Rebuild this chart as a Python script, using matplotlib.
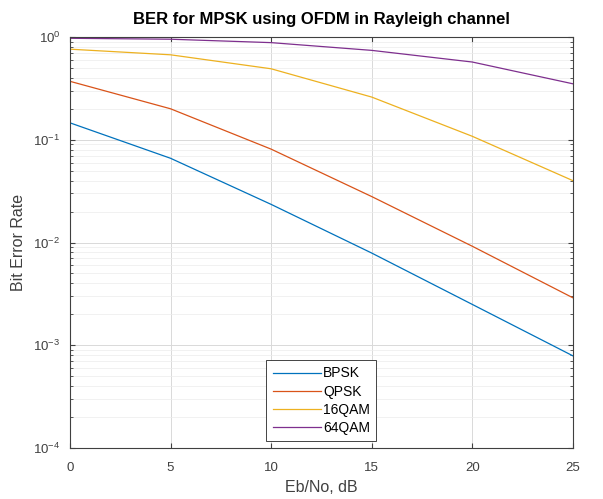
#!/usr/bin/env python3
# -*- coding: utf-8 -*-

import matplotlib
matplotlib.use('Agg')
import matplotlib.pyplot as plt

# Eb/No points (dB)
ebno = [0, 5, 10, 15, 20, 25]

# BER values
ber_bpsk = [0.146, 0.066, 0.0235, 0.0079, 0.0025, 0.00079]
ber_qpsk = [0.37, 0.20, 0.081, 0.028, 0.0092, 0.0029]
ber_16qam = [0.76, 0.67, 0.49, 0.26, 0.108, 0.040]
ber_64qam = [0.97, 0.95, 0.88, 0.74, 0.57, 0.35]

labels = ['BPSK', 'QPSK', '16QAM', '64QAM']
colors = ['#0072BD', '#D95319', '#EDB120', '#7E2F8E']

plt.rcParams['font.family'] = ['Liberation Sans', 'DejaVu Sans']

fig = plt.figure(figsize=(6.03, 4.99), dpi=100)
ax = fig.add_axes([0.116, 0.102, 0.834, 0.824])

for vals, lab, c in zip([ber_bpsk, ber_qpsk, ber_16qam, ber_64qam], labels, colors):
    ax.semilogy(ebno, vals, color=c, linewidth=0.9, label=lab)

ax.set_xlim(0, 25)
ax.set_ylim(1e-4, 1)
ax.set_xticks([0, 5, 10, 15, 20, 25])

# matlab-like grid and ticks
ax.grid(True, which='major', color='#d9d9d9', linewidth=0.7)
ax.grid(True, which='minor', color='#ececec', linewidth=0.5)
ax.tick_params(which='both', direction='in', top=True, right=True,
               labelsize=9.5, colors='#404040', labelcolor='#404040')
ax.tick_params(axis='x', pad=10)
ax.tick_params(axis='y', pad=7)
for sp in ax.spines.values():
    sp.set_color('#404040')
    sp.set_linewidth(0.8)

ax.set_title('BER for MPSK using OFDM in Rayleigh channel',
             fontsize=12, fontweight='bold', pad=9)
ax.set_xlabel('Eb/No, dB', fontsize=11.5, color='#404040', labelpad=4)
ax.set_ylabel('Bit Error Rate', fontsize=11.5, color='#404040', labelpad=5)

leg = ax.legend(loc='lower center', bbox_to_anchor=(0.5, 0.01), fontsize=10,
                handlelength=3.5, fancybox=False, framealpha=1,
                borderpad=0.45, labelspacing=0.3, handletextpad=0.15,
                borderaxespad=0.2)
leg.get_frame().set_edgecolor('#262626')
leg.get_frame().set_linewidth(0.6)

plt.savefig('out.png', dpi=100)
